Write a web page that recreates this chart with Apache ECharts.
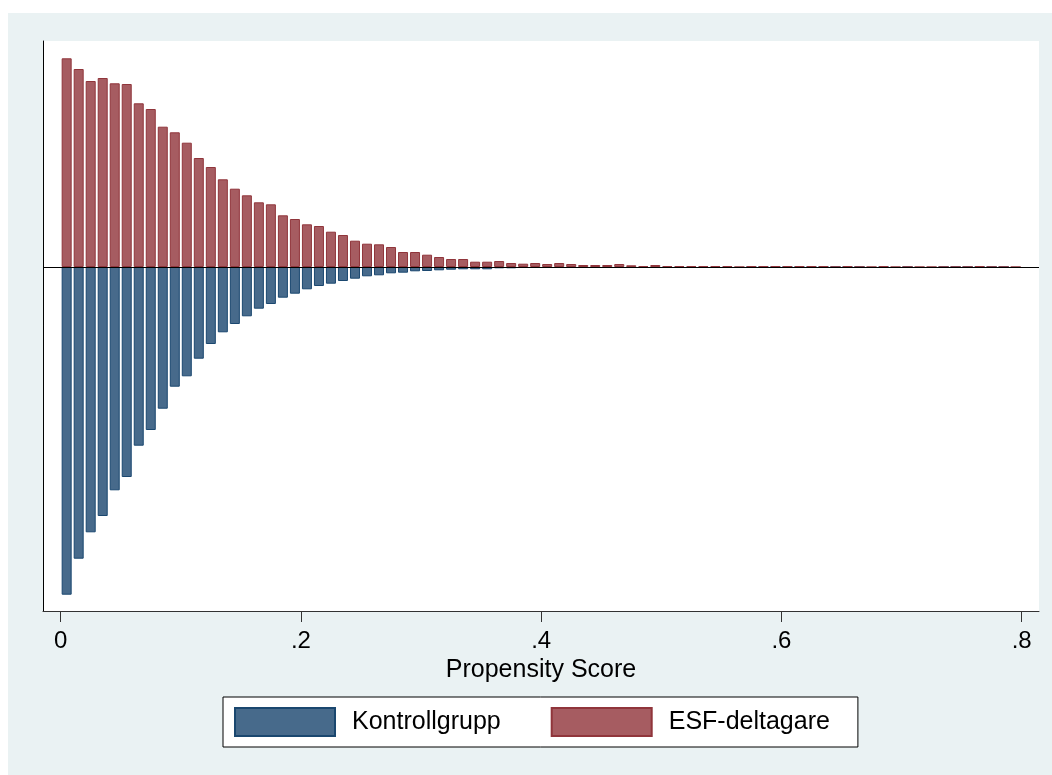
<!DOCTYPE html>
<html>
<head>
<meta charset="utf-8">
<script src="https://cdn.jsdelivr.net/npm/echarts@6/dist/echarts.min.js"></script>
<style>
  html, body { margin: 0; padding: 0; background: #fff; }
  #chart { position: absolute; left: 8px; top: 13px; width: 1044px; height: 762px; background: #eaf2f3; }
</style>
</head>
<body>
<div id="chart"></div>
<script>
// bins of width .01 on the propensity score, 0 .. .8
const binWidth = 0.01;
const tickValues = [0, 0.2, 0.4, 0.6, 0.8];

// heights above the zero line (ESF-deltagare)
const esfHeights = [
  208.7, 198, 186, 189, 183.7, 183, 163.7, 158, 140.3, 134.7,
  124.3, 109, 100, 87.7, 78.3, 71.7, 64.7, 62.7, 51.7, 48,
  42.7, 41, 35.3, 32, 26.3, 23.3, 22.7, 20, 15, 15,
  12.3, 10, 8, 8, 5.3, 5.3, 6, 4, 3.3, 4,
  3, 4, 3, 2, 2, 2, 3, 1.7, 1, 2,
  1, 1, 1, 0.9, 0.9, 0.9, 0, 0.9, 0.9, 0.9,
  0.9, 0.9, 0.9, 0.9, 0, 0.9, 0, 0, 0.9, 0,
  0, 0, 0, 0, 0, 0, 0.9, 0, 0, 0
];

// heights below the zero line (Kontrollgrupp)
const kontrollHeights = [
  327.7, 291.7, 265.3, 249, 223.3, 210, 178.7, 163, 141.7, 119.7,
  109.3, 91.7, 77, 65.3, 57, 49.3, 41.7, 37, 30.7, 26.7,
  22.3, 19, 16.7, 14, 11.7, 9.3, 8.3, 6.3, 5.7, 4.3,
  4, 3.3, 2.7, 2.3, 2.3, 2.3, 1.3, 1.3, 1, 1,
  0.7, 0.7, 0.7, 0.7, 0.7, 0.7, 0.7, 0.7, 0.7, 0.6,
  0.5, 0.5, 0.5, 0.5, 0.5, 0.5, 0.9, 0, 0, 0,
  0, 0, 0, 0, 0, 0, 0, 0.9, 0, 0.9,
  0, 0.9, 0.9, 0, 0, 0, 0, 0, 0, 0.9
];

const fontFam = '"Liberation Sans", Arial, sans-serif';

const binCenter = i => +(binWidth * i + binWidth / 2).toFixed(4);
const esfData = esfHeights.map((h, i) => [binCenter(i), h]);
const kontrollData = kontrollHeights.map((h, i) => [binCenter(i), -h]);

const chart = echarts.init(document.getElementById('chart'), null, { renderer: 'canvas' });

chart.setOption({
  animation: false,
  backgroundColor: '#eaf2f3',
  grid: { left: 35, right: 13, top: 28, bottom: 164, backgroundColor: '#fff', show: true, borderWidth: 0 },
  xAxis: {
    type: 'value',
    min: -0.0147,
    max: 0.8144,
    name: 'Propensity Score',
    nameLocation: 'middle',
    nameGap: 45,
    nameTextStyle: { fontFamily: fontFam, fontSize: 25, color: '#000' },
    splitLine: { show: false },
    axisLine: { onZero: false, lineStyle: { color: '#333', width: 1 } },
    axisTick: { show: true, length: 11, customValues: tickValues, lineStyle: { color: '#333' } },
    axisLabel: {
      customValues: tickValues,
      margin: 18,
      fontFamily: fontFam,
      fontSize: 24,
      color: '#000',
      formatter: v => (v === 0 ? '0' : String(+v.toFixed(1)).replace(/^0/, ''))
    }
  },
  yAxis: {
    type: 'value',
    min: -344,
    max: 226,
    splitLine: { show: false },
    axisLine: { show: true, onZero: false, lineStyle: { color: '#000', width: 1 } },
    axisTick: { show: false },
    axisLabel: { show: false }
  },
  legend: {
    left: 215,
    top: 684,
    orient: 'horizontal',
    data: ['Kontrollgrupp', 'ESF-deltagare'],
    itemWidth: 100,
    itemHeight: 28,
    itemGap: 50,
    padding: [10, 28, 10, 11],
    backgroundColor: '#fff',
    borderColor: '#000',
    borderWidth: 1,
    borderRadius: 0,
    icon: 'rect',
    textStyle: { fontFamily: fontFam, fontSize: 25, color: '#000', padding: [0, 0, 0, 12] }
  },
  series: [
    {
      name: 'Kontrollgrupp',
      type: 'bar',
      data: kontrollData,
      barWidth: 10,
      barGap: '-100%',
      itemStyle: { color: '#476a8b', borderColor: '#1a476f', borderWidth: 1 }
    },
    {
      name: 'ESF-deltagare',
      type: 'bar',
      data: esfData,
      barWidth: 10,
      barGap: '-100%',
      itemStyle: { color: '#a65c61', borderColor: '#90353b', borderWidth: 1 },
      markLine: {
        silent: true,
        symbol: ['none', 'none'],
        label: { show: false },
        lineStyle: { color: '#000', width: 1, type: 'solid' },
        data: [{ yAxis: 0 }]
      }
    }
  ]
});
</script>
</body>
</html>
